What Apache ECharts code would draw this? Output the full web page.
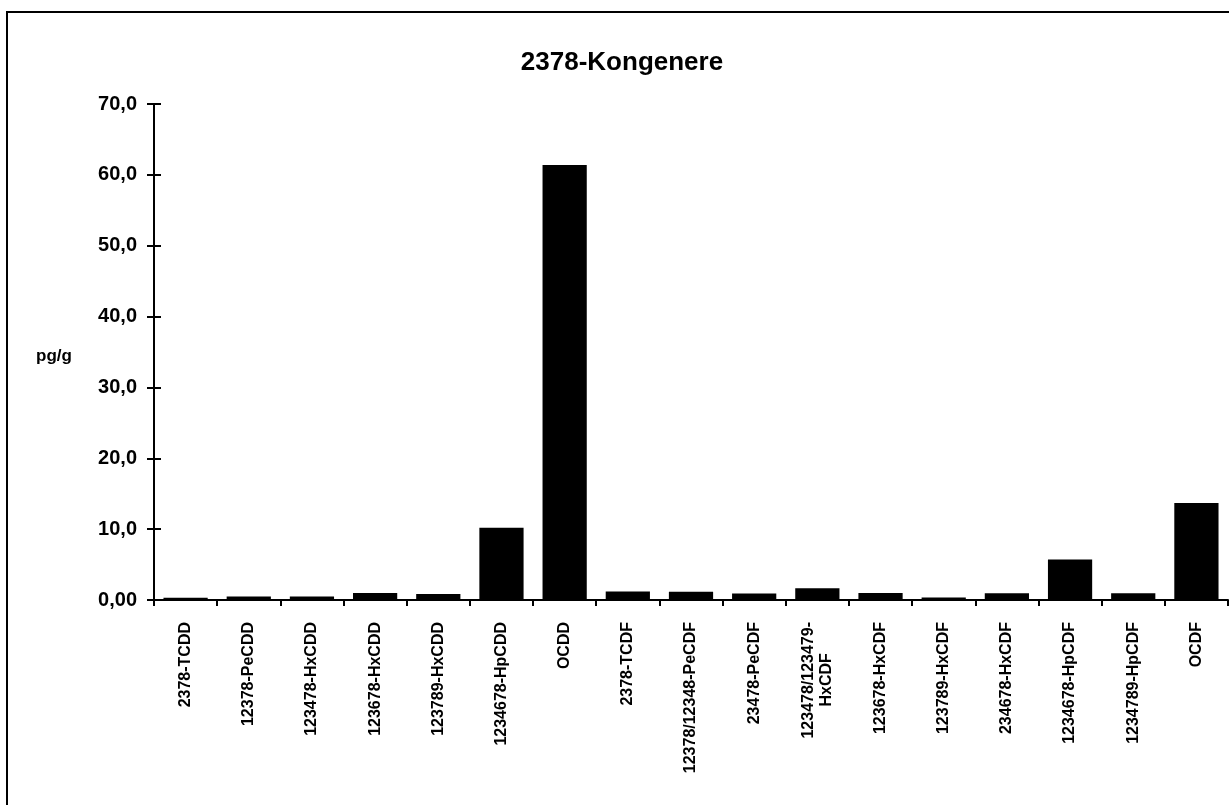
<!DOCTYPE html>
<html>
<head>
<meta charset="utf-8">
<script src="https://cdn.jsdelivr.net/npm/echarts@6/dist/echarts.min.js"></script>
<style>
  html, body { margin: 0; padding: 0; background: #fff; }
  #chart { width: 1229px; height: 805px; }
</style>
</head>
<body>
<div id="chart"></div>
<script>
// ---- data ----
const titleText = '2378-Kongenere';
const yAxisName = 'pg/g';
const categories = [
  '2378-TCDD', '12378-PeCDD', '123478-HxCDD', '123678-HxCDD', '123789-HxCDD',
  '1234678-HpCDD', 'OCDD', '2378-TCDF', '12378/12348-PeCDF', '23478-PeCDF',
  '123478/123479-\nHxCDF', '123678-HxCDF', '123789-HxCDF', '234678-HxCDF',
  '1234678-HpCDF', '1234789-HpCDF', 'OCDF'
];
const values = [
  0.3, 0.5, 0.5, 1.0, 0.85,
  10.2, 61.4, 1.2, 1.15, 0.9,
  1.65, 1.0, 0.35, 0.95,
  5.7, 0.95, 13.7
];
const yTickLabels = ['0,00', '10,0', '20,0', '30,0', '40,0', '50,0', '60,0', '70,0'];
const yMin = 0, yMax = 70, yStep = 10;

// ---- chart ----
const FONT = '"Liberation Sans", Arial, sans-serif';
const X_LABEL_SIZE = 16;
const chart = echarts.init(document.getElementById('chart'), null, { renderer: 'canvas' });

const measureCtx = document.createElement('canvas').getContext('2d');
measureCtx.font = 'bold ' + X_LABEL_SIZE + 'px ' + FONT;

// centre every line of a multi-line label against its longest line
function xLabel(v) {
  const lines = v.split('\n');
  if (lines.length === 1) return v;
  const widths = lines.map(function (l) { return measureCtx.measureText(l).width; });
  const maxW = Math.max.apply(null, widths);
  const spaceW = measureCtx.measureText(' ').width;
  return lines.map(function (l, i) {
    const n = Math.round((maxW - widths[i]) / 2 / spaceW);
    return l + ' '.repeat(n);
  }).join('\n');
}

const option = {
  backgroundColor: '#ffffff',
  animation: false,
  graphic: [
    {
      type: 'rect', silent: true,
      shape: { x: 7, y: 12, width: 1400, height: 1000 },
      style: { fill: 'none', stroke: '#000', lineWidth: 2 }
    },
    {
      type: 'text', silent: true,
      style: {
        text: titleText, x: 622, y: 50, textAlign: 'center', textVerticalAlign: 'top',
        font: 'bold 26px ' + FONT, fill: '#000'
      }
    },
    {
      type: 'text', silent: true,
      style: {
        text: yAxisName, x: 54, y: 356, textAlign: 'center', textVerticalAlign: 'middle',
        font: 'bold 17px ' + FONT, fill: '#000'
      }
    }
  ],
  grid: { left: 154, right: 1, top: 104, bottom: 205, containLabel: false, outerBoundsMode: 'none' },
  xAxis: {
    type: 'category',
    data: categories,
    boundaryGap: true,
    axisLine: { lineStyle: { color: '#000', width: 2 } },
    axisTick: { show: true, alignWithLabel: false, length: 6, lineStyle: { color: '#000', width: 2 } },
    axisLabel: {
      interval: 0, rotate: 90, margin: 22, lineHeight: 18,
      color: '#000', fontFamily: FONT, fontWeight: 'bold', fontSize: X_LABEL_SIZE,
      formatter: xLabel
    },
    splitLine: { show: false }
  },
  yAxis: [
    {
      type: 'value', min: yMin, max: yMax, interval: yStep,
      axisLine: { show: true, lineStyle: { color: '#000', width: 2 } },
      axisTick: { show: true, length: 7, lineStyle: { color: '#000', width: 2 } },
      axisLabel: {
        margin: 17, color: '#000', fontFamily: FONT, fontWeight: 'bold', fontSize: 20,
        formatter: function (v) { return yTickLabels[Math.round((v - yMin) / yStep)]; }
      },
      splitLine: { show: false }
    },
    {
      type: 'value', min: yMin, max: yMax, interval: yStep, position: 'left',
      axisLine: { show: false },
      axisTick: { show: true, inside: true, length: 7, lineStyle: { color: '#000', width: 2 } },
      axisLabel: { show: false },
      splitLine: { show: false }
    }
  ],
  series: [
    {
      type: 'bar',
      data: values,
      barCategoryGap: '30%',
      itemStyle: { color: '#000' },
      silent: true
    }
  ]
};
chart.setOption(option);
</script>
</body>
</html>
